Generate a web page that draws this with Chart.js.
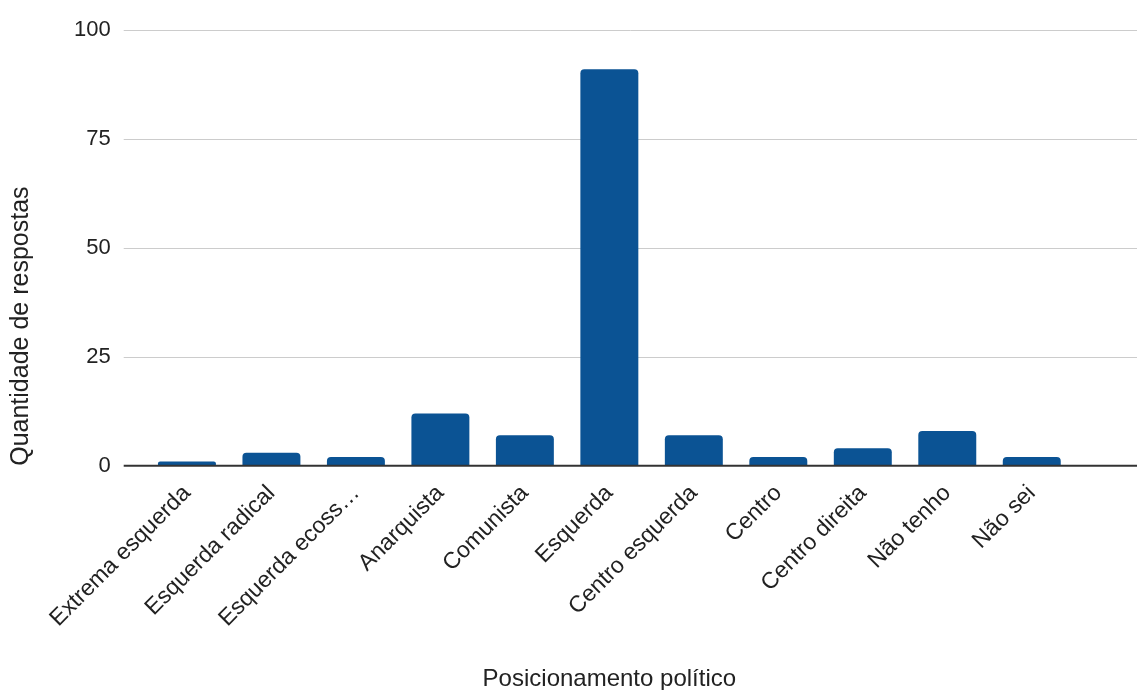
<!DOCTYPE html>
<html>
<head>
<meta charset="utf-8">
<script src="https://cdn.jsdelivr.net/npm/chart.js@4"></script>
<style>
  html, body { margin: 0; padding: 0; background: #fff; }
  #wrap { width: 1137px; height: 690px; }
</style>
</head>
<body>
<div id="wrap"><canvas id="chart"></canvas></div>
<script>
// Data
const categories = [
    'Extrema esquerda', 'Esquerda radical', 'Esquerda ecoss…', 'Anarquista',
    'Comunista', 'Esquerda', 'Centro esquerda', 'Centro', 'Centro direita',
    'Não tenho', 'Não sei'
];
const respostas = [1, 3, 2, 12, 7, 91, 7, 2, 4, 8, 2];
const yTicks = [0, 25, 50, 75, 100];

const font = "'Liberation Sans', Arial, sans-serif";

// grid lines reach a bit left of the bars and to the right edge, like the original
const wideGrid = {
    id: 'wideGrid',
    beforeDatasetsDraw(chart) {
        const ctx = chart.ctx;
        const y = chart.scales.y;
        const x0 = chart.chartArea.left - 21;
        const x1 = chart.width;
        ctx.save();
        yTicks.forEach(v => {
            if (v === 0) return;
            const py = Math.round(y.getPixelForValue(v)) + 0.5;
            ctx.strokeStyle = '#cccccc';
            ctx.lineWidth = 1;
            ctx.beginPath();
            ctx.moveTo(x0, py);
            ctx.lineTo(x1, py);
            ctx.stroke();
        });
        ctx.restore();
    },
    afterDatasetsDraw(chart) {
        const ctx = chart.ctx;
        const py = chart.scales.y.getPixelForValue(0);
        ctx.save();
        ctx.strokeStyle = '#333333';
        ctx.lineWidth = 2;
        ctx.beginPath();
        ctx.moveTo(chart.chartArea.left - 21, py);
        ctx.lineTo(chart.width, py);
        ctx.stroke();
        ctx.restore();
    }
};

new Chart(document.getElementById('chart'), {
    type: 'bar',
    data: {
        labels: categories,
        datasets: [{
            label: 'Quantidade de respostas',
            data: respostas,
            backgroundColor: '#0b5394',
            borderRadius: { topLeft: 4, topRight: 4 },
            borderSkipped: 'bottom',
            categoryPercentage: 0.686,
            barPercentage: 1
        }]
    },
    options: {
        responsive: true,
        maintainAspectRatio: false,
        animation: false,
        layout: { padding: { top: 30, right: 63, left: 6, bottom: -4 } },
        plugins: {
            legend: { display: false },
            tooltip: { enabled: false }
        },
        scales: {
            x: {
                grid: { display: false },
                border: { display: false },
                ticks: {
                    color: '#222',
                    font: { family: font, size: 23 },
                    maxRotation: 45,
                    minRotation: 45,
                    padding: 6
                },
                title: {
                    display: true,
                    text: 'Posicionamento político',
                    color: '#222',
                    font: { family: font, size: 24 },
                    padding: { top: 27, bottom: 0 }
                }
            },
            y: {
                min: 0,
                max: 100,
                afterBuildTicks: axis => {
                    axis.ticks = yTicks.map(v => ({ value: v }));
                },
                // tick padding should not push the plot down
                afterFit: axis => {
                    axis.paddingTop = 0;
                    axis.paddingBottom = 0;
                },
                grid: { display: false, drawTicks: false },
                border: { display: false },
                ticks: {
                    color: '#222',
                    font: { family: font, size: 22 },
                    padding: 34
                },
                title: {
                    display: true,
                    text: 'Quantidade de respostas',
                    align: 'start',
                    color: '#222',
                    font: { family: font, size: 25 },
                    padding: { top: 0, bottom: 4 }
                }
            }
        }
    },
    plugins: [wideGrid]
});
</script>
</body>
</html>
